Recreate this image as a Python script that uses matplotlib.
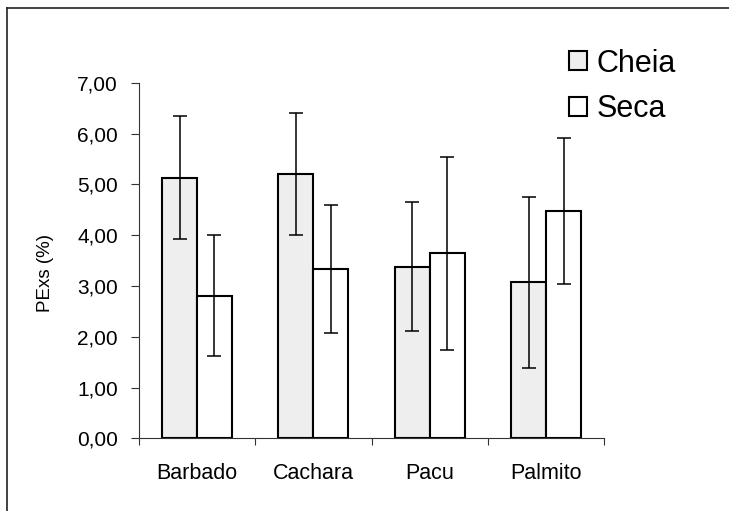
import numpy as np
import matplotlib
matplotlib.use("Agg")
import matplotlib.pyplot as plt
from matplotlib.lines import Line2D

# values
categories = ["Barbado", "Cachara", "Pacu", "Palmito"]
series_names = ["Cheia", "Seca"]
cheia_mean = [5.13, 5.21, 3.38, 3.07]
cheia_sd = [1.21, 1.20, 1.27, 1.68]
seca_mean = [2.81, 3.34, 3.64, 4.48]
seca_sd = [1.19, 1.26, 1.89, 1.44]
ytick_values = [0, 1, 2, 3, 4, 5, 6, 7]
ytick_labels = ["0,00", "1,00", "2,00", "3,00", "4,00", "5,00", "6,00", "7,00"]

plt.rcParams['font.family'] = ['Liberation Sans', 'DejaVu Sans']

fig = plt.figure(figsize=(7.29, 5.11), dpi=100)
ax = fig.add_axes([0.1904, 0.1419, 0.6386, 0.6962])

x = np.arange(len(categories))
w = 0.30
err_kw = dict(ecolor='black', elinewidth=1.1, capsize=5, capthick=1.1)

ax.bar(x - w / 2, cheia_mean, w, yerr=cheia_sd, color='#eeeeee',
       edgecolor='black', linewidth=1.5, label=series_names[0],
       error_kw=err_kw, zorder=2)
ax.bar(x + w / 2, seca_mean, w, yerr=seca_sd, color='white',
       edgecolor='black', linewidth=1.5, label=series_names[1],
       error_kw=err_kw, zorder=2)

ax.set_xlim(-0.5, len(categories) - 0.5)
ax.set_ylim(0, 7)

# y axis
ax.set_yticks(ytick_values)
ax.set_yticklabels(ytick_labels, fontsize=15)
ax.tick_params(axis='y', direction='out', length=6, width=0.8, pad=9,
               color='#333333')

# x axis: tick marks between groups, labels at group centres
ax.set_xticks(np.arange(len(categories) + 1) - 0.5)
ax.set_xticklabels([])
ax.set_xticks(x, minor=True)
ax.set_xticklabels(categories, minor=True, fontsize=15.5)
ax.tick_params(axis='x', which='major', direction='out', length=5,
               width=0.8, color='#333333')
ax.tick_params(axis='x', which='minor', length=0, pad=18)

for side in ['top', 'right']:
    ax.spines[side].set_visible(False)
for side in ['left', 'bottom']:
    ax.spines[side].set_linewidth(0.8)
    ax.spines[side].set_color('#333333')

fig.text(46 / 729, 1 - 273 / 511, "PExs (%)", rotation=90, ha='center',
         va='center', fontsize=13.5)

ax.legend(loc='upper left', bbox_to_anchor=(0.7805, 0.905),
          bbox_transform=fig.transFigure, frameon=False, fontsize=22,
          handlelength=0.6, handleheight=0.6, handletextpad=0.3,
          labelspacing=0.52, borderpad=0, borderaxespad=0)

# outer frame (only top and left edges visible)
fig.add_artist(Line2D([7 / 729, 1.0], [1 - 8.5 / 511, 1 - 8.5 / 511],
                      transform=fig.transFigure, color='#222222', lw=1.2))
fig.add_artist(Line2D([7 / 729, 7 / 729], [0.0, 1 - 8.5 / 511],
                      transform=fig.transFigure, color='#222222', lw=1.2))

fig.savefig("out.png", dpi=100)
